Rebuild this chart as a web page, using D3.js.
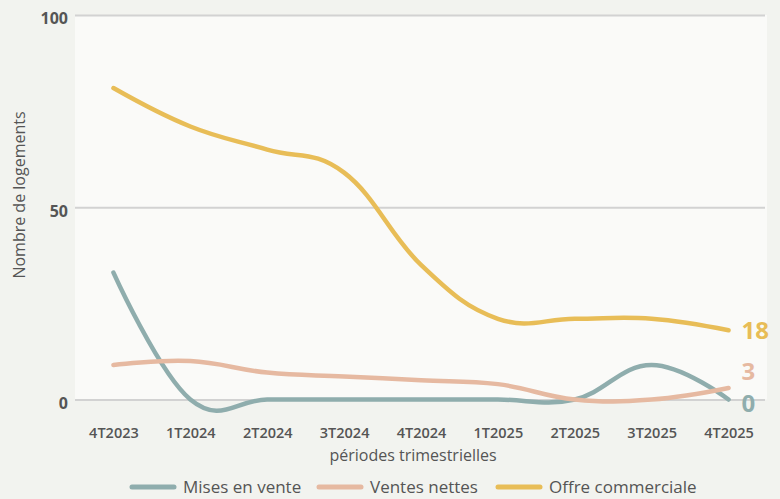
<!DOCTYPE html>
<html>
<head>
<meta charset="utf-8">
<script src="https://cdn.jsdelivr.net/npm/d3@7"></script>
<style>
  body { margin: 0; background: #f2f3ef; }
  text { font-family: "Open Sans", sans-serif; fill: #555; }
</style>
</head>
<body>
<div id="chart"></div>
<script>
// periods and series
let periods = ["4T2023", "1T2024", "2T2024", "3T2024", "4T2024", "1T2025", "2T2025", "3T2025", "4T2025"]
let misesEnVente = [33, 0, 0, 0, 0, 0, 0, 9, 0]
let ventesNettes = [9, 10, 7, 6, 5, 4, 0, 0, 3]
let offreCommerciale = [81, 71, 65, 59, 35, 21, 21, 21, 18]
let yTicks = [0, 50, 100]

let series = [
  {name: "Mises en vente", values: misesEnVente, color: "#8fadad"},
  {name: "Ventes nettes", values: ventesNettes, color: "#e6b9a1"},
  {name: "Offre commerciale", values: offreCommerciale, color: "#e8bd57"}
]

let width = 780
let height = 499
let plotLeft = 75, plotRight = 767, plotTop = 15, plotBottom = 399.5

let svg = d3.select("#chart")
  .append("svg")
  .attr("width", width)
  .attr("height", height)

svg.append("rect")
  .attr("x", plotLeft).attr("y", plotTop)
  .attr("width", plotRight - plotLeft).attr("height", plotBottom - plotTop)
  .attr("fill", "#fafaf8")

let x = d3.scalePoint()
  .domain(periods)
  .range([plotLeft, plotRight])
  .padding(0.5)

let y = d3.scaleLinear()
  .domain([0, 100])
  .range([plotBottom, plotTop])

// grid lines + y labels
let yAxis = d3.axisLeft(y)
  .tickValues(yTicks)
  .tickSize(-(plotRight - plotLeft - 2))
  .tickPadding(7)

let gy = svg.append("g")
  .attr("transform", `translate(${plotLeft},0)`)
  .call(yAxis)
gy.select(".domain").remove()
gy.selectAll(".tick line").attr("stroke", "#d2d2d2").attr("stroke-width", 2)
gy.selectAll(".tick text")
  .attr("font-size", 16).attr("font-weight", 700)
  .attr("fill", "#555").attr("dy", "0.55em")

// x labels
let xAxis = d3.axisBottom(x).tickSize(0).tickPadding(0)
let gx = svg.append("g")
  .attr("transform", "translate(0,433)")
  .call(xAxis)
gx.select(".domain").remove()
gx.selectAll(".tick text")
  .attr("font-size", 14.5).attr("font-weight", 600)
  .attr("fill", "#555").attr("dy", "0.35em")

svg.append("text")
  .attr("x", 413).attr("y", 461)
  .attr("text-anchor", "middle")
  .attr("font-size", 16)
  .text("périodes trimestrielles")

svg.append("text")
  .attr("transform", "translate(25,195) rotate(-90)")
  .attr("text-anchor", "middle")
  .attr("font-size", 16)
  .text("Nombre de logements")

// lines
let line = d3.line()
  .x((d, i) => x(periods[i]))
  .y(d => y(d))
  .curve(d3.curveCardinal.tension(-0.2))

svg.selectAll(".serie")
  .data(series)
  .enter()
  .append("path")
  .attr("d", d => line(d.values))
  .attr("fill", "none")
  .attr("stroke", d => d.color)
  .attr("stroke-width", 4.5)
  .attr("stroke-linecap", "round")

// end labels
svg.selectAll(".endlabel")
  .data(series)
  .enter()
  .append("text")
  .attr("x", x(periods[periods.length - 1]) + 13)
  .attr("y", d => y(d.values[d.values.length - 1]))
  .attr("dy", d => d.name == "Mises en vente" ? "0.5em" : d.name == "Ventes nettes" ? "-0.35em" : "0.35em")
  .attr("font-size", 24)
  .attr("font-weight", 700)
  .style("fill", d => d.color)
  .text(d => d.values[d.values.length - 1])

// legend
let legendX = [132, 319, 498]
let leg = svg.selectAll(".leg")
  .data(series)
  .enter()
  .append("g")
  .attr("transform", (d, i) => `translate(${legendX[i]},487)`)
leg.append("line")
  .attr("x1", 0).attr("x2", 42)
  .attr("stroke", d => d.color)
  .attr("stroke-width", 5)
  .attr("stroke-linecap", "round")
leg.append("text")
  .attr("x", 51).attr("dy", "0.35em")
  .attr("font-size", 17)
  .attr("fill", "#444")
  .text(d => d.name)
</script>
</body>
</html>
